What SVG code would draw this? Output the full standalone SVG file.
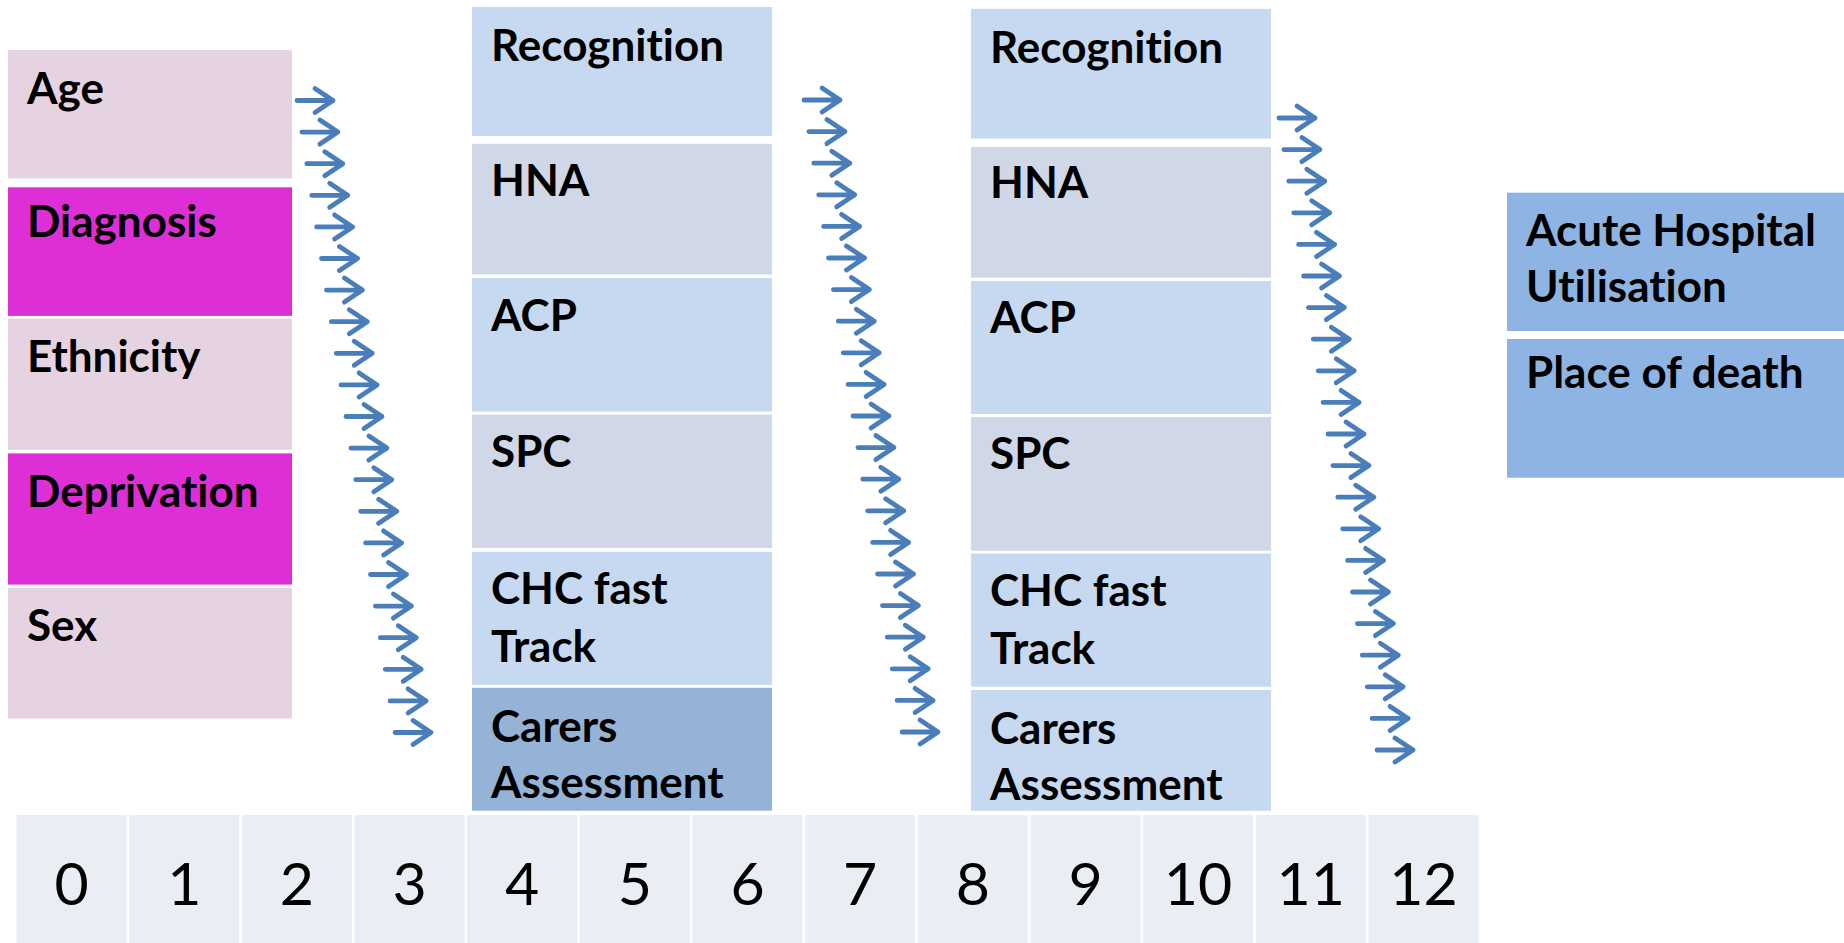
<svg xmlns="http://www.w3.org/2000/svg" xmlns:xlink="http://www.w3.org/1999/xlink" width="1844" height="943" viewBox="0 0 1844 943">
  <style>
    .lbl { font-family: Lato, "Liberation Sans", Arial, sans-serif; font-weight: bold; font-size: 44px; fill: #000; font-variant-ligatures: none; font-feature-settings: "liga" 0, "clig" 0, "dlig" 0; }
    .num { font-family: Lato, "Liberation Sans", Arial, sans-serif; font-size: 59px; fill: #000; text-anchor: middle; }
    .pink { fill: #e5d3e1; }
    .magenta { fill: #dd2fd5; }
    .blue { fill: #c6d9f1; }
    .grey { fill: #d0d8e8; }
    .mid { fill: #95b3d7; }
    .outcome { fill: #8eb4e3; }
    .cell { fill: #e9edf4; }
    .arr { fill: none; stroke: #4a7ebb; stroke-width: 4.8; stroke-linecap: round; stroke-linejoin: round; }
  </style>
  <defs>
    <!-- small open-headed arrow, origin at the tail -->
    <path id="arw" class="arr" d="M0,0 H36 M18,-12 L36,0 L18,12"/>
  </defs>

  <rect width="1844" height="943" fill="#ffffff"/>

  <!-- patient characteristics -->
  <g id="age"><rect class="pink" x="8" y="50" width="284" height="128.5"/><text class="lbl" x="27" y="103.5">Age</text></g>
  <g id="diagnosis"><rect class="magenta" x="8" y="187.3" width="284" height="128.6"/><text class="lbl" x="27" y="236.5">Diagnosis</text></g>
  <g id="ethnicity"><rect class="pink" x="8" y="318.6" width="284" height="131.2"/><text class="lbl" x="27" y="372">Ethnicity</text></g>
  <g id="deprivation"><rect class="magenta" x="8" y="453.4" width="284" height="131.2"/><text class="lbl" x="27" y="507">Deprivation</text></g>
  <g id="sex"><rect class="pink" x="8" y="588" width="284" height="130.6"/><text class="lbl" x="27" y="641">Sex</text></g>

  <!-- first set of interventions -->
  <g id="recognition-1"><rect class="blue" x="472" y="7" width="300" height="129"/><text class="lbl" x="491" y="61">Recognition</text></g>
  <g id="hna-1"><rect class="grey" x="472" y="143.8" width="300" height="130.8"/><text class="lbl" x="491" y="196">HNA</text></g>
  <g id="acp-1"><rect class="blue" x="472" y="278" width="300" height="133.6"/><text class="lbl" x="491" y="331">ACP</text></g>
  <g id="spc-1"><rect class="grey" x="472" y="414.7" width="300" height="133.3"/><text class="lbl" x="491" y="467">SPC</text></g>
  <g id="chc-1"><rect class="blue" x="472" y="551.8" width="300" height="133.2"/><text class="lbl" x="491" y="604">CHC fast</text><text class="lbl" x="491" y="661.5">Track</text></g>
  <g id="carers-1"><rect class="mid" x="472" y="687.8" width="300" height="122.9"/><text class="lbl" x="491" y="741.5">Carers</text><text class="lbl" x="491" y="797.5">Assessment</text></g>

  <!-- second set of interventions -->
  <g id="recognition-2"><rect class="blue" x="971" y="8.9" width="300" height="129.7"/><text class="lbl" x="990" y="63">Recognition</text></g>
  <g id="hna-2"><rect class="grey" x="971" y="147" width="300" height="130.7"/><text class="lbl" x="990" y="198">HNA</text></g>
  <g id="acp-2"><rect class="blue" x="971" y="281" width="300" height="133"/><text class="lbl" x="990" y="333">ACP</text></g>
  <g id="spc-2"><rect class="grey" x="971" y="417" width="300" height="133.7"/><text class="lbl" x="990" y="469">SPC</text></g>
  <g id="chc-2"><rect class="blue" x="971" y="553.5" width="300" height="133.2"/><text class="lbl" x="990" y="606">CHC fast</text><text class="lbl" x="990" y="663.5">Track</text></g>
  <g id="carers-2"><rect class="blue" x="971" y="690" width="300" height="120.7"/><text class="lbl" x="990" y="743.5">Carers</text><text class="lbl" x="990" y="799.5">Assessment</text></g>

  <!-- outcomes -->
  <g id="acute-hospital"><rect class="outcome" x="1507" y="192.7" width="337" height="138.3"/><text class="lbl" x="1526" y="245.5">Acute Hospital</text><text class="lbl" x="1526" y="301.5">Utilisation</text></g>
  <g id="place-of-death"><rect class="outcome" x="1507" y="339" width="337" height="138.7"/><text class="lbl" x="1526" y="388">Place of death</text></g>

  <!-- timeline -->
  <g id="timeline">
    <rect class="cell" x="16.6" y="815" width="110" height="128"/><text class="num" x="71.6" y="905">0</text>
    <rect class="cell" x="129.3" y="815" width="110" height="128"/><text class="num" x="184.3" y="905">1</text>
    <rect class="cell" x="241.9" y="815" width="110" height="128"/><text class="num" x="296.9" y="905">2</text>
    <rect class="cell" x="354.6" y="815" width="110" height="128"/><text class="num" x="409.6" y="905">3</text>
    <rect class="cell" x="467.2" y="815" width="110" height="128"/><text class="num" x="522.2" y="905">4</text>
    <rect class="cell" x="579.9" y="815" width="110" height="128"/><text class="num" x="634.9" y="905">5</text>
    <rect class="cell" x="692.5" y="815" width="110" height="128"/><text class="num" x="747.5" y="905">6</text>
    <rect class="cell" x="805.2" y="815" width="110" height="128"/><text class="num" x="860.2" y="905">7</text>
    <rect class="cell" x="917.8" y="815" width="110" height="128"/><text class="num" x="972.8" y="905">8</text>
    <rect class="cell" x="1030.5" y="815" width="110" height="128"/><text class="num" x="1085.5" y="905">9</text>
    <rect class="cell" x="1143.1" y="815" width="110" height="128"/><text class="num" x="1198.1" y="905">10</text>
    <rect class="cell" x="1255.8" y="815" width="110" height="128"/><text class="num" x="1310.8" y="905">11</text>
    <rect class="cell" x="1368.4" y="815" width="110" height="128"/><text class="num" x="1423.4" y="905">12</text>
  </g>

  <!-- flow arrows between stages -->
  <g id="connectors">
    <g id="flow-1">
      <use xlink:href="#arw" x="297" y="100.5"/>
      <use xlink:href="#arw" x="301.9" y="132.1"/>
      <use xlink:href="#arw" x="306.8" y="163.7"/>
      <use xlink:href="#arw" x="311.7" y="195.3"/>
      <use xlink:href="#arw" x="316.6" y="226.9"/>
      <use xlink:href="#arw" x="321.5" y="258.5"/>
      <use xlink:href="#arw" x="326.4" y="290.1"/>
      <use xlink:href="#arw" x="331.3" y="321.7"/>
      <use xlink:href="#arw" x="336.2" y="353.3"/>
      <use xlink:href="#arw" x="341.1" y="384.9"/>
      <use xlink:href="#arw" x="346" y="416.5"/>
      <use xlink:href="#arw" x="350.9" y="448.1"/>
      <use xlink:href="#arw" x="355.8" y="479.7"/>
      <use xlink:href="#arw" x="360.7" y="511.3"/>
      <use xlink:href="#arw" x="365.6" y="542.9"/>
      <use xlink:href="#arw" x="370.5" y="574.5"/>
      <use xlink:href="#arw" x="375.4" y="606.1"/>
      <use xlink:href="#arw" x="380.3" y="637.7"/>
      <use xlink:href="#arw" x="385.2" y="669.3"/>
      <use xlink:href="#arw" x="390.1" y="700.9"/>
      <use xlink:href="#arw" x="395" y="732.5"/>
    </g>
    <g id="flow-2">
      <use xlink:href="#arw" x="804" y="100"/>
      <use xlink:href="#arw" x="808.9" y="131.6"/>
      <use xlink:href="#arw" x="813.8" y="163.2"/>
      <use xlink:href="#arw" x="818.7" y="194.8"/>
      <use xlink:href="#arw" x="823.6" y="226.4"/>
      <use xlink:href="#arw" x="828.5" y="258"/>
      <use xlink:href="#arw" x="833.4" y="289.6"/>
      <use xlink:href="#arw" x="838.3" y="321.2"/>
      <use xlink:href="#arw" x="843.2" y="352.8"/>
      <use xlink:href="#arw" x="848.1" y="384.4"/>
      <use xlink:href="#arw" x="853" y="416"/>
      <use xlink:href="#arw" x="857.9" y="447.6"/>
      <use xlink:href="#arw" x="862.8" y="479.2"/>
      <use xlink:href="#arw" x="867.7" y="510.8"/>
      <use xlink:href="#arw" x="872.6" y="542.4"/>
      <use xlink:href="#arw" x="877.5" y="574"/>
      <use xlink:href="#arw" x="882.4" y="605.6"/>
      <use xlink:href="#arw" x="887.3" y="637.2"/>
      <use xlink:href="#arw" x="892.2" y="668.8"/>
      <use xlink:href="#arw" x="897.1" y="700.4"/>
      <use xlink:href="#arw" x="902" y="732"/>
    </g>
    <g id="flow-3">
      <use xlink:href="#arw" x="1279" y="118"/>
      <use xlink:href="#arw" x="1283.9" y="149.6"/>
      <use xlink:href="#arw" x="1288.8" y="181.2"/>
      <use xlink:href="#arw" x="1293.7" y="212.8"/>
      <use xlink:href="#arw" x="1298.6" y="244.4"/>
      <use xlink:href="#arw" x="1303.5" y="276"/>
      <use xlink:href="#arw" x="1308.4" y="307.6"/>
      <use xlink:href="#arw" x="1313.3" y="339.2"/>
      <use xlink:href="#arw" x="1318.2" y="370.8"/>
      <use xlink:href="#arw" x="1323.1" y="402.4"/>
      <use xlink:href="#arw" x="1328" y="434"/>
      <use xlink:href="#arw" x="1332.9" y="465.6"/>
      <use xlink:href="#arw" x="1337.8" y="497.2"/>
      <use xlink:href="#arw" x="1342.7" y="528.8"/>
      <use xlink:href="#arw" x="1347.6" y="560.4"/>
      <use xlink:href="#arw" x="1352.5" y="592"/>
      <use xlink:href="#arw" x="1357.4" y="623.6"/>
      <use xlink:href="#arw" x="1362.3" y="655.2"/>
      <use xlink:href="#arw" x="1367.2" y="686.8"/>
      <use xlink:href="#arw" x="1372.1" y="718.4"/>
      <use xlink:href="#arw" x="1377" y="750"/>
    </g>
  </g>
</svg>
